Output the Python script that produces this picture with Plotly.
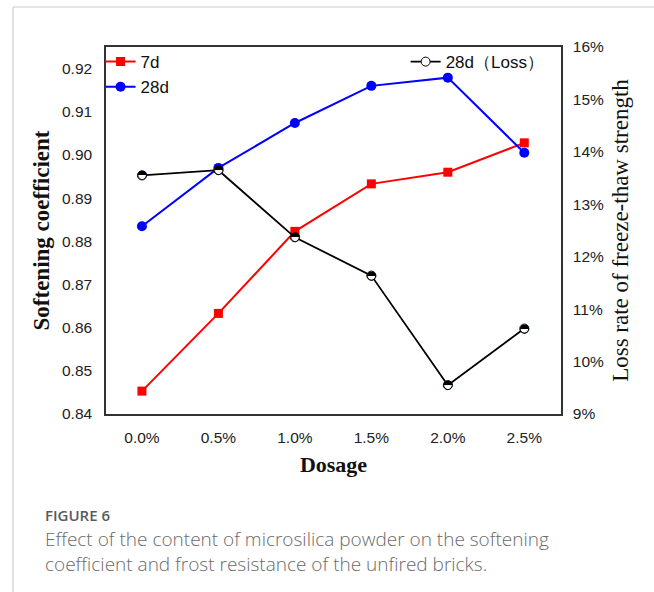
import plotly.graph_objects as go

# Dosage of microsilica powder
dosage = ["0.0%", "0.5%", "1.0%", "1.5%", "2.0%", "2.5%"]

# Softening coefficient
soft_7d = [0.8453, 0.8633, 0.8823, 0.8933, 0.8960, 0.9028]
soft_28d = [0.8835, 0.8970, 0.9074, 0.9160, 0.9179, 0.9005]

# Loss rate of freeze-thaw strength (28d)
loss_28d = [0.1355, 0.1365, 0.1237, 0.1164, 0.0955, 0.1063]

left_ticks = [0.84, 0.85, 0.86, 0.87, 0.88, 0.89, 0.90, 0.91, 0.92]
right_ticks = [0.09, 0.10, 0.11, 0.12, 0.13, 0.14, 0.15, 0.16]

SANS = "Liberation Sans, Arial, sans-serif"
SERIF = "Liberation Serif, Times New Roman, serif"

fig = go.Figure()

fig.add_trace(go.Scatter(
    x=dosage, y=soft_7d, name="7d", mode="lines+markers",
    line=dict(color="#ff0000", width=2),
    marker=dict(symbol="square", size=9, color="#ff0000"),
    legend="legend",
))
fig.add_trace(go.Scatter(
    x=dosage, y=soft_28d, name="28d", mode="lines+markers",
    line=dict(color="#0000ff", width=2),
    marker=dict(symbol="circle", size=10, color="#0000ff"),
    legend="legend",
))

# Loss-rate line with half-filled circle markers
fig.add_trace(go.Scatter(
    x=dosage, y=loss_28d, name="28d\uff08Loss\uff09", mode="lines+markers",
    line=dict(color="#000000", width=1.8),
    marker=dict(symbol="circle", size=9, color="#ffffff",
                line=dict(color="#000000", width=1)),
    yaxis="y2", legend="legend2",
))
fig.add_trace(go.Scatter(
    x=dosage, y=loss_28d, mode="text", text=["\u25d3"] * len(dosage),
    textposition="middle center",
    textfont=dict(family="DejaVu Sans", size=12, color="#000000"),
    yaxis="y2", showlegend=False, hoverinfo="skip",
))

fig.update_layout(
    width=654, height=592,
    margin=dict(l=106, r=93, t=47, b=178),
    paper_bgcolor="#ffffff", plot_bgcolor="#ffffff",
    font=dict(family=SANS, size=15, color="#222222"),
    xaxis=dict(
        type="category", range=[-0.47, 5.48],
        showline=True, linecolor="#333333", linewidth=1.5, mirror=True,
        showgrid=False, zeroline=False, ticks="",
        ticklabelstandoff=9,
        tickfont=dict(family=SANS, size=15.5, color="#222222"),
        title=dict(text="<b>Dosage</b>", font=dict(family=SERIF, size=22, color="#111111"),
                   standoff=11),
    ),
    yaxis=dict(
        range=[0.84, 0.925], tickvals=left_ticks, tickformat=".2f",
        showline=True, linecolor="#333333", linewidth=1.5,
        showgrid=False, zeroline=False, ticks="",
        ticklabelstandoff=9,
        tickfont=dict(family=SANS, size=15.5, color="#222222"),
        title=dict(text="<b>Softening coefficient</b>",
                   font=dict(family=SERIF, size=23, color="#111111"), standoff=6),
    ),
    yaxis2=dict(
        overlaying="y", side="right",
        range=[0.09, 0.16], tickvals=right_ticks, tickformat=".0%",
        showline=True, linecolor="#333333", linewidth=1.5,
        showgrid=False, zeroline=False, ticks="",
        ticklabelstandoff=7,
        tickfont=dict(family=SANS, size=15.5, color="#222222"),
        title=dict(text="Loss rate of freeze-thaw strength",
                   font=dict(family=SERIF, size=23, color="#111111"), standoff=9),
    ),
    legend=dict(
        x=-0.012, y=1.008, xanchor="left", yanchor="top",
        bgcolor="rgba(0,0,0,0)", borderwidth=0,
        font=dict(family=SANS, size=17, color="#111111"),
        tracegroupgap=0, itemwidth=30,
    ),
    legend2=dict(
        x=0.975, y=1.008, xanchor="right", yanchor="top",
        bgcolor="rgba(0,0,0,0)", borderwidth=0,
        font=dict(family=SANS, size=17, color="#111111"),
    ),
)

# Card outline (top and left edges)
plot_w = 654 - 106 - 93
plot_h = 592 - 47 - 178
def px_x(px):
    return (px - 106) / plot_w
def px_y(py):
    return (592 - 178 - py) / plot_h

fig.add_shape(type="line", xref="paper", yref="paper",
              x0=px_x(13), x1=px_x(654), y0=px_y(7), y1=px_y(7),
              line=dict(color="#cccccc", width=1.2))
fig.add_shape(type="line", xref="paper", yref="paper",
              x0=px_x(13), x1=px_x(13), y0=px_y(7), y1=px_y(592),
              line=dict(color="#cccccc", width=1.2))

# Caption
fig.add_annotation(
    xref="paper", yref="paper", x=px_x(44), y=px_y(514.5),
    xanchor="left", yanchor="middle", showarrow=False, borderpad=0,
    text="FIGURE 6",
    font=dict(family="Open Sans", size=15, color="#5a5a5a", weight=600),
)
fig.add_annotation(
    xref="paper", yref="paper", x=px_x(44), y=px_y(551),
    xanchor="left", yanchor="middle", showarrow=False, align="left", borderpad=0,
    text="Effect of the content of microsilica powder on the softening<br>"
         "coefficient and frost resistance of the unfired bricks.",
    font=dict(family="Open Sans", size=19, color="#6a6a6a", weight=300),
)

fig.write_html("out.html")
